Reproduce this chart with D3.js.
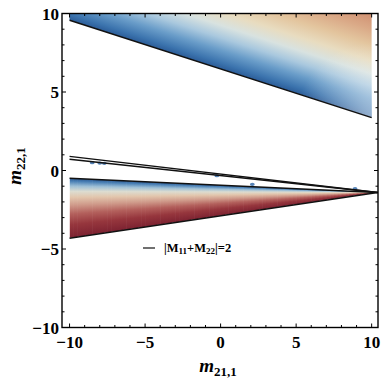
<!DOCTYPE html>
<html>
<head>
<meta charset="utf-8">
<script src="https://cdn.jsdelivr.net/npm/d3@7"></script>
<style>
  body { margin: 0; background: #fff; }
  svg { display: block; }
  .tick-label { font-family: 'Liberation Serif', 'Times New Roman', serif; font-weight: bold; font-size: 17px; }
  .axis-label { font-family: 'Liberation Serif', 'Times New Roman', serif; font-weight: bold; }
  .legend { font-family: 'Liberation Serif', 'Times New Roman', serif; font-size: 12.5px; font-weight: bold; }
</style>
</head>
<body>
<div id="chart"></div>
<script>
// values (data units)
var xTicks = [-10, -5, 0, 5, 10];
var yTicks = [-10, -5, 0, 5, 10];
var minorTicks = d3.range(-10, 11, 1);

var topBoundary = [[-10, 9.57], [10, 3.37]];
var contourUpper = [[-10, 0.90], [10.4, -1.4]];
var contourLower = [[-10, 0.71], [10.4, -1.4]];
var wedgeTop = [[-10, -0.5], [10.4, -1.4]];
var wedgeBottom = [[-10, -4.32], [10.4, -1.4]];
var blobs = [[-8.5, 0.5], [-8.0, 0.47], [-7.7, 0.46], [-0.25, -0.33], [2.1, -0.88], [8.9, -1.15]];

var topStops = [
    [0, '#2b5c98'], [0.06, '#3c74ae'], [0.18, '#6a9dc9'], [0.3, '#a9c8de'],
    [0.42, '#d8e2e0'], [0.55, '#e8dcc0'], [0.7, '#e3c59e'], [0.85, '#daa987'], [1, '#d09072']
];
var wedgeStops = [
    [0, '#2c5a92'], [0.05, '#4a80b5'], [0.13, '#9dbfd6'], [0.22, '#dcdcd0'],
    [0.32, '#e2c6ad'], [0.45, '#cf9a8a'], [0.6, '#b3605c'], [0.78, '#96363d'], [1, '#7c2231']
];

var width = 382, height = 382;
var margin = {top: 13.5, right: 4, bottom: 54.5, left: 62};

var svg = d3.select('#chart').append('svg')
    .attr('width', width)
    .attr('height', height);

var xScale = d3.scaleLinear().domain([-10.5, 10.42]).range([margin.left, width - margin.right]);
var yScale = d3.scaleLinear().domain([-10, 10]).range([height - margin.bottom, margin.top]);

function yAt(seg, x) {
    var t = (x - seg[0][0]) / (seg[1][0] - seg[0][0]);
    return seg[0][1] + t * (seg[1][1] - seg[0][1]);
}

var defs = svg.append('defs');

// gradient across the upper region, perpendicular to its boundary line
var p0 = [xScale(topBoundary[1][0]), yScale(topBoundary[1][1])];
var q0 = [xScale(topBoundary[0][0]), yScale(topBoundary[0][1])];
var dx = p0[0] - q0[0], dy = p0[1] - q0[1], len = Math.sqrt(dx * dx + dy * dy);
var nrm = [dy / len, -dx / len];
var reach = 99;
var gTop = defs.append('linearGradient')
    .attr('id', 'gradTop')
    .attr('gradientUnits', 'userSpaceOnUse')
    .attr('x1', p0[0]).attr('y1', p0[1])
    .attr('x2', p0[0] + nrm[0] * reach).attr('y2', p0[1] + nrm[1] * reach);
gTop.selectAll('stop').data(topStops).enter().append('stop')
    .attr('offset', function(d) { return d[0]; })
    .attr('stop-color', function(d) { return d[1]; });

// the lower right corner of the upper region is paler
var gGlow = defs.append('radialGradient')
    .attr('id', 'gradGlow')
    .attr('gradientUnits', 'userSpaceOnUse')
    .attr('cx', p0[0]).attr('cy', p0[1]).attr('r', 75);
gGlow.append('stop').attr('offset', 0).attr('stop-color', '#fff').attr('stop-opacity', 0.5);
gGlow.append('stop').attr('offset', 1).attr('stop-color', '#fff').attr('stop-opacity', 0);

var gWedge = defs.append('linearGradient')
    .attr('id', 'gradWedge')
    .attr('x1', 0).attr('y1', 0).attr('x2', 0).attr('y2', 1);
gWedge.selectAll('stop').data(wedgeStops).enter().append('stop')
    .attr('offset', function(d) { return d[0]; })
    .attr('stop-color', function(d) { return d[1]; });

var line = d3.line()
    .x(function(d) { return xScale(d[0]); })
    .y(function(d) { return yScale(d[1]); });

// upper region
var topPoly = [[-10, 10], [10, 10], topBoundary[1], topBoundary[0]];
svg.append('path')
    .attr('d', line(topPoly) + 'Z')
    .attr('fill', 'url(#gradTop)');
svg.append('path')
    .attr('d', line(topPoly) + 'Z')
    .attr('fill', 'url(#gradGlow)');

// lower wedge, filled column by column
var wedgePoly = [
    [-10, yAt(wedgeTop, -10)], [10, yAt(wedgeTop, 10)],
    [10, yAt(wedgeBottom, 10)], [-10, yAt(wedgeBottom, -10)]
];
defs.append('clipPath').attr('id', 'wedgeClip')
    .append('path').attr('d', line(wedgePoly) + 'Z');

var step = 0.25;
var strips = d3.range(-10, 10, step);
svg.append('g')
    .attr('clip-path', 'url(#wedgeClip)')
    .selectAll('rect')
    .data(strips).enter().append('rect')
    .attr('x', function(d) { return xScale(d); })
    .attr('width', xScale(step) - xScale(0) + 0.6)
    .attr('y', function(d) { return yScale(yAt(wedgeTop, d)); })
    .attr('height', function(d) { return yScale(yAt(wedgeBottom, d + step)) - yScale(yAt(wedgeTop, d)); })
    .attr('fill', 'url(#gradWedge)');

// small blue specks under the contour
svg.append('g').selectAll('ellipse')
    .data(blobs).enter().append('ellipse')
    .attr('cx', function(d) { return xScale(d[0]); })
    .attr('cy', function(d) { return yScale(d[1]); })
    .attr('rx', 2.4).attr('ry', 1.6)
    .attr('fill', '#5583b8');

// boundary lines
[topBoundary, contourUpper, contourLower, wedgeTop, wedgeBottom].forEach(function(seg) {
    svg.append('path')
        .attr('d', line(seg))
        .attr('fill', 'none')
        .attr('stroke', '#111')
        .attr('stroke-width', 1.5);
});

// frame
var x0 = xScale.range()[0], x1 = xScale.range()[1];
var y0 = yScale.range()[1], y1 = yScale.range()[0];
svg.append('rect')
    .attr('x', x0).attr('y', y0)
    .attr('width', x1 - x0).attr('height', y1 - y0)
    .attr('fill', 'none').attr('stroke', '#000').attr('stroke-width', 1.4);

var tickG = svg.append('g').attr('stroke', '#000').attr('stroke-width', 1);
minorTicks.forEach(function(v) {
    var major = v % 5 === 0;
    var L = major ? 4 : 2.5;
    var xp = xScale(v), yp = yScale(v);
    tickG.append('line').attr('x1', xp).attr('x2', xp).attr('y1', y1).attr('y2', y1 - L);
    tickG.append('line').attr('x1', xp).attr('x2', xp).attr('y1', y0).attr('y2', y0 + L);
    tickG.append('line').attr('y1', yp).attr('y2', yp).attr('x1', x0).attr('x2', x0 + L);
    tickG.append('line').attr('y1', yp).attr('y2', yp).attr('x1', x1).attr('x2', x1 - L);
});

function fmt(v) { return v < 0 ? '\u2212' + Math.abs(v) : String(v); }

svg.append('g').selectAll('text')
    .data(xTicks).enter().append('text')
    .attr('class', 'tick-label')
    .attr('x', function(d) { return xScale(d); })
    .attr('y', 348)
    .attr('text-anchor', 'middle')
    .text(fmt);

svg.append('g').selectAll('text')
    .data(yTicks).enter().append('text')
    .attr('class', 'tick-label')
    .attr('x', 59)
    .attr('y', function(d) { return yScale(d) + 6; })
    .attr('text-anchor', 'end')
    .text(fmt);

// axis labels
var xl = svg.append('text')
    .attr('class', 'axis-label')
    .attr('x', 218).attr('y', 372)
    .attr('text-anchor', 'middle');
xl.append('tspan').attr('font-style', 'italic').attr('font-size', 19).text('m');
xl.append('tspan').attr('font-size', 13).attr('dy', 4).text('21,1');

var yl = svg.append('text')
    .attr('class', 'axis-label')
    .attr('transform', 'translate(21,166) rotate(-90)')
    .attr('text-anchor', 'middle');
yl.append('tspan').attr('font-style', 'italic').attr('font-size', 19).text('m');
yl.append('tspan').attr('font-size', 13).attr('dy', 4).text('22,1');

// legend
svg.append('line')
    .attr('x1', 143).attr('x2', 155).attr('y1', 248).attr('y2', 248)
    .attr('stroke', '#111').attr('stroke-width', 1.2);
var lg = svg.append('text').attr('class', 'legend').attr('x', 164).attr('y', 252);
lg.append('tspan').text('|M');
lg.append('tspan').attr('font-size', 9).attr('dy', 2).text('11');
lg.append('tspan').attr('dy', -2).text('+M');
lg.append('tspan').attr('font-size', 9).attr('dy', 2).text('22');
lg.append('tspan').attr('dy', -2).text('|=2');
</script>
</body>
</html>
